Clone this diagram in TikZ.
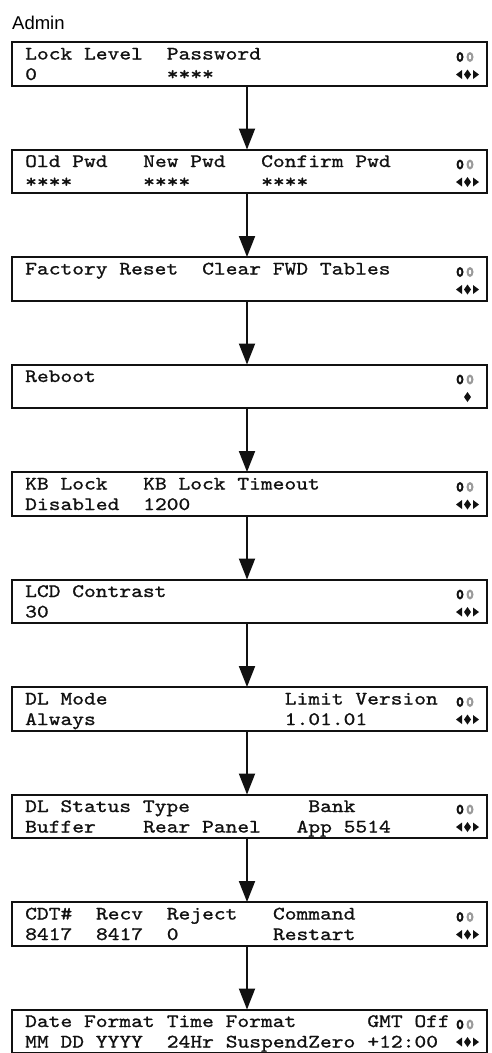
\documentclass[tikz,border=0pt]{standalone}
\usepackage{fontspec}
\setsansfont{Liberation Sans}
\newfontfamily\lcdfont{lmmono10-regular.otf}[FakeStretch=1.18,FakeBold=1]
\usetikzlibrary{arrows.meta,calc,positioning}
\definecolor{ink}{HTML}{111111}
\definecolor{keygray}{HTML}{9A9A9A}
\tikzset{
  screen/.style={draw=ink,line width=2pt,fill=white,minimum width=475pt,minimum height=43.5pt,
                 inner sep=0pt,outer sep=0pt},
  lcd/.style={font=\lcdfont\fontsize{19}{19}\selectfont,text=ink,inner sep=0pt,anchor=base west},
  menuflow/.style={-{Triangle[length=21pt,width=16pt]},line width=2pt,draw=ink}
}
% lock / keypad marks in the top right corner of a screen
\newcommand{\statusicons}[1]{%
  \fill[ink] ($(#1.north east)+(-27,-15)$) ellipse (3.5pt and 5pt);
  \fill[white] ($(#1.north east)+(-27,-15)$) ellipse (1.3pt and 2.6pt);
  \fill[keygray] ($(#1.north east)+(-17,-15)$) ellipse (3.5pt and 5pt);
  \fill[white] ($(#1.north east)+(-17,-15)$) ellipse (1.2pt and 2.4pt);}
% arrow keys in the bottom right corner
\newcommand{\navicons}[1]{%
  \fill[ink] ($(#1.north east)+(-31,-32.5)$) -- ++(6,4.5) -- ++(0,-9) -- cycle;
  \fill[ink] ($(#1.north east)+(-19.5,-32.5)$) +(0,5) -- +(3.5,0) -- +(0,-5) -- +(-3.5,0) -- cycle;
  \fill[ink] ($(#1.north east)+(-8,-32.5)$) -- ++(-6,4.5) -- ++(0,-9) -- cycle;}

\begin{document}
\begin{tikzpicture}[x=1pt,y=1pt,node distance=64pt]
  \useasboundingbox (0,0) rectangle (491,-1053);
  \node[font=\sffamily\fontsize{18.5}{18.5}\selectfont,anchor=base west,inner sep=0pt] (title) at (12,-29.5) {Admin};

  \node[screen,anchor=north west] (scr1) at (12,-42) {};
  \node[screen,below=of scr1] (scr2) {};
  \node[screen,below=of scr2] (scr3) {};
  \node[screen,below=of scr3] (scr4) {};
  \node[screen,below=of scr4] (scr5) {};
  \node[screen,below=of scr5] (scr6) {};
  \node[screen,below=of scr6] (scr7) {};
  \node[screen,below=of scr7] (scr8) {};
  \node[screen,below=of scr8] (scr9) {};
  \node[screen,below=of scr9] (scr10) {};

  \draw[menuflow] ([xshift=-2.5pt]scr1.south) -- ([xshift=-2.5pt]scr2.north); \draw[menuflow] ([xshift=-2.5pt]scr2.south) -- ([xshift=-2.5pt]scr3.north);
  \draw[menuflow] ([xshift=-2.5pt]scr3.south) -- ([xshift=-2.5pt]scr4.north); \draw[menuflow] ([xshift=-2.5pt]scr4.south) -- ([xshift=-2.5pt]scr5.north);
  \draw[menuflow] ([xshift=-2.5pt]scr5.south) -- ([xshift=-2.5pt]scr6.north); \draw[menuflow] ([xshift=-2.5pt]scr6.south) -- ([xshift=-2.5pt]scr7.north);
  \draw[menuflow] ([xshift=-2.5pt]scr7.south) -- ([xshift=-2.5pt]scr8.north); \draw[menuflow] ([xshift=-2.5pt]scr8.south) -- ([xshift=-2.5pt]scr9.north);
  \draw[menuflow] ([xshift=-2.5pt]scr9.south) -- ([xshift=-2.5pt]scr10.north);

  % screen texts, one LCD column = 11.8pt
  \node[lcd] (lockHd) at ($(scr1.north west)+(13,-17.5)$) {Lock Level};
  \node[lcd] (pwdHd) at ($(scr1.north west)+(154.6,-17.5)$) {Password};
  \node[lcd] (lockVal) at ($(scr1.north west)+(13,-38)$) {0};
  \node[lcd] (pwdVal) at ($(scr1.north west)+(154.6,-38)$) {****};

  \node[lcd] (oldHd) at ($(scr2.north west)+(13,-17.5)$) {Old Pwd};
  \node[lcd] (newHd) at ($(scr2.north west)+(131,-17.5)$) {New Pwd};
  \node[lcd] (cfmHd) at ($(scr2.north west)+(249,-17.5)$) {Confirm Pwd};
  \node[lcd] (oldVal) at ($(scr2.north west)+(13,-38)$) {****};
  \node[lcd] (newVal) at ($(scr2.north west)+(131,-38)$) {****};
  \node[lcd] (cfmVal) at ($(scr2.north west)+(249,-38)$) {****};

  \node[lcd] (rstHd) at ($(scr3.north west)+(13,-17.5)$) {Factory Reset};
  \node[lcd] (fwdHd) at ($(scr3.north west)+(190,-17.5)$) {Clear FWD Tables};

  \node[lcd] (bootHd) at ($(scr4.north west)+(13,-17.5)$) {Reboot};

  \node[lcd] (kbHd) at ($(scr5.north west)+(13,-17.5)$) {KB Lock};
  \node[lcd] (kbtHd) at ($(scr5.north west)+(131,-17.5)$) {KB Lock Timeout};
  \node[lcd] (kbVal) at ($(scr5.north west)+(13,-38)$) {Disabled};
  \node[lcd] (kbtVal) at ($(scr5.north west)+(131,-38)$) {1200};

  \node[lcd] (lcdHd) at ($(scr6.north west)+(13,-17.5)$) {LCD Contrast};
  \node[lcd] (lcdVal) at ($(scr6.north west)+(13,-38)$) {30};

  \node[lcd] (dlHd) at ($(scr7.north west)+(13,-17.5)$) {DL Mode};
  \node[lcd] (limHd) at ($(scr7.north west)+(272.6,-17.5)$) {Limit Version};
  \node[lcd] (dlVal) at ($(scr7.north west)+(13,-38)$) {Always};
  \node[lcd] (limVal) at ($(scr7.north west)+(272.6,-38)$) {1.01.01};

  \node[lcd] (dlsHd) at ($(scr8.north west)+(13,-17.5)$) {DL Status Type};
  \node[lcd] (bankHd) at ($(scr8.north west)+(296.2,-17.5)$) {Bank};
  \node[lcd] (dlsVal) at ($(scr8.north west)+(13,-38)$) {Buffer};
  \node[lcd] (typeVal) at ($(scr8.north west)+(131,-38)$) {Rear Panel};
  \node[lcd] (bankVal) at ($(scr8.north west)+(284.4,-38)$) {App 5514};

  \node[lcd] (cdtHd) at ($(scr9.north west)+(13,-17.5)$) {CDT\#};
  \node[lcd] (recvHd) at ($(scr9.north west)+(83.8,-17.5)$) {Recv};
  \node[lcd] (rejHd) at ($(scr9.north west)+(154.6,-17.5)$) {Reject};
  \node[lcd] (cmdHd) at ($(scr9.north west)+(260.8,-17.5)$) {Command};
  \node[lcd] (cdtVal) at ($(scr9.north west)+(13,-38)$) {8417};
  \node[lcd] (recvVal) at ($(scr9.north west)+(83.8,-38)$) {8417};
  \node[lcd] (rejVal) at ($(scr9.north west)+(154.6,-38)$) {0};
  \node[lcd] (cmdVal) at ($(scr9.north west)+(260.8,-38)$) {Restart};

  \node[lcd] (dateHd) at ($(scr10.north west)+(13,-17.5)$) {Date Format};
  \node[lcd] (timeHd) at ($(scr10.north west)+(154.6,-17.5)$) {Time Format};
  \node[lcd] (gmtHd) at ($(scr10.north west)+(355.2,-17.5)$) {GMT Off};
  \node[lcd] (dateVal) at ($(scr10.north west)+(13,-38)$) {MM DD YYYY};
  \node[lcd] (timeVal) at ($(scr10.north west)+(154.6,-38)$) {24Hr};
  \node[lcd] (suspVal) at ($(scr10.north west)+(213.6,-38)$) {SuspendZero};
  \node[lcd] (gmtVal) at ($(scr10.north west)+(355.2,-38)$) {+12:00};

  \statusicons{scr1} \statusicons{scr2} \statusicons{scr3} \statusicons{scr4} \statusicons{scr5}
  \statusicons{scr6} \statusicons{scr7} \statusicons{scr8} \statusicons{scr9} \statusicons{scr10}
  \navicons{scr1} \navicons{scr2} \navicons{scr3} \navicons{scr5}
  \navicons{scr6} \navicons{scr7} \navicons{scr8} \navicons{scr9} \navicons{scr10}
  \fill[ink] ($(scr4.north east)+(-19.5,-32.5)$) +(0,5) -- +(3.5,0) -- +(0,-5) -- +(-3.5,0) -- cycle;
\end{tikzpicture}
\end{document}
